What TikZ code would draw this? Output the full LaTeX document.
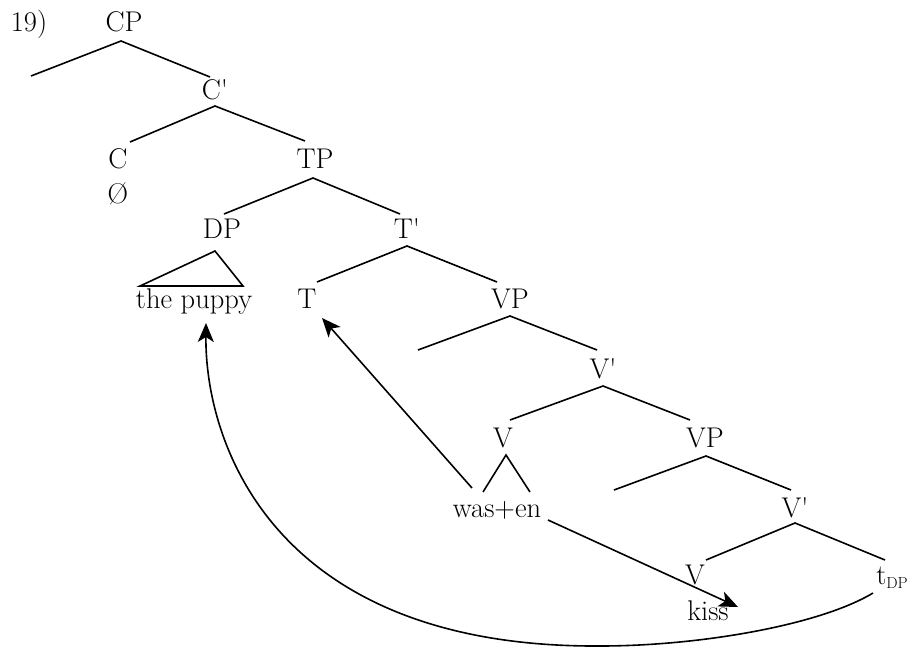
\documentclass[tikz,border=0pt]{standalone}
\usetikzlibrary{arrows.meta,calc}
\begin{document}
\begin{tikzpicture}[x=1pt,y=-1pt,
  lbl/.style={anchor=base,inner sep=0pt,font=\fontsize{28.5}{32}\selectfont},
  br/.style={line width=1.6pt},
  mv/.style={line width=1.6pt,-{Stealth[length=19pt,width=16pt,inset=5pt]}}]
\useasboundingbox (0,0) rectangle (912,647);
% labels
\node[lbl] (num) at (29,32) {19)};
\node[lbl] (CP) at (124,32) {CP};
\node[lbl] (Cb) at (215,100) {C\textquotesingle};
\node[lbl] (C) at (118,168) {C};
\node[lbl] (null) at (118,203) {\O};
\node[lbl] (TP) at (315,168) {TP};
\node[lbl] (DP) at (222,238) {DP};
\node[lbl] (Tb) at (407,238) {T\textquotesingle};
\node[lbl] (pup) at (194,308) {the puppy};
\node[lbl] (T) at (307,308) {T};
\node[lbl] (VPa) at (510,308) {VP};
\node[lbl] (Vba) at (603,378) {V\textquotesingle};
\node[lbl] (Va) at (503,447) {V};
\node[lbl] (VPb) at (705,447) {VP};
\node[lbl] (was) at (497,517) {was+en};
\node[lbl] (Vbb) at (795,517) {V\textquotesingle};
\node[lbl] (Vb) at (695,584) {V};
\node[lbl] (kiss) at (708,620) {kiss};
\node[lbl] (tdp) at (892,584) {t\raisebox{-4pt}{\fontsize{16}{16}\selectfont DP}};
% empty branch ends
\coordinate (e1) at (31,76);
\coordinate (e2) at (418,350);
\coordinate (e3) at (614,490);
\coordinate (low) at (600,646);
% branches
\draw[br] (e1) -- ($(CP.base)+(-3,9)$) -- ($(Cb.base)+(-5,-23)$);
\draw[br] ($(C.base)+(12,-26)$) -- ($(Cb.base)+(0,6)$) -- ($(TP.base)+(-10,-27)$);
\draw[br] ($(DP.base)+(2,-24)$) -- ($(TP.base)+(-2,10)$) -- ($(Tb.base)+(-7,-24)$);
\draw[br] ($(DP.base)+(-7,13)$) -- ($(pup.base)+(-54,-22)$) -- ($(pup.base)+(49,-22)$) -- cycle;
\draw[br] ($(T.base)+(10,-26)$) -- ($(Tb.base)+(0,8)$) -- ($(VPa.base)+(-13,-26)$);
\draw[br] (e2) -- ($(VPa.base)+(0,8)$) -- ($(Vba.base)+(-6,-28)$);
\draw[br] ($(Va.base)+(7,-27)$) -- ($(Vba.base)+(0,8)$) -- ($(VPb.base)+(-15,-27)$);
\draw[br] ($(was.base)+(-14,-25)$) -- ($(Va.base)+(3,8)$) -- ($(was.base)+(33,-25)$);
\draw[br] (e3) -- ($(VPb.base)+(1,9)$) -- ($(Vbb.base)+(-4,-27)$);
\draw[br] ($(Vb.base)+(11,-24)$) -- ($(Vbb.base)+(0,6)$) -- ($(tdp.base)+(-7,-24)$);
% movement arrows
\draw[mv] ($(was.base)+(-25,-29)$) -- ($(T.base)+(15,10)$);
\draw[mv] ($(was.base)+(51,3)$) -- ($(kiss.base)+(30,-13)$);
\draw[mv] ($(tdp.base)+(-19,9)$) .. controls (820,625) and (700,646) .. (low)
  .. controls (275,648) and (205,445) .. ($(pup.base)+(12,15)$);
\end{tikzpicture}
\end{document}
